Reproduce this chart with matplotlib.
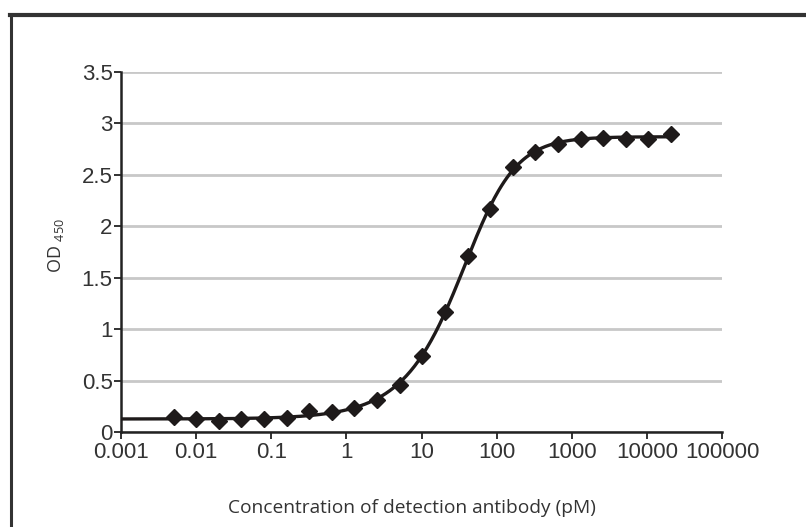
import numpy as np
import matplotlib
matplotlib.use("Agg")
import matplotlib.pyplot as plt
from matplotlib.lines import Line2D

# concentration of detection antibody (pM), two-fold dilutions
conc = [0.005, 0.01, 0.02, 0.04, 0.08, 0.16, 0.32, 0.64, 1.28, 2.56, 5.12,
        10.24, 20.48, 40.96, 81.92, 163.84, 327.68, 655.36, 1310.72,
        2621.44, 5242.88, 10485.76, 20971.52]
od450 = [0.149, 0.124, 0.11, 0.124, 0.13, 0.14, 0.207, 0.19, 0.23, 0.31,
         0.457, 0.74, 1.17, 1.71, 2.17, 2.58, 2.72, 2.80, 2.85, 2.86, 2.85,
         2.85, 2.90]

yticks = [0, 0.5, 1, 1.5, 2, 2.5, 3, 3.5]
ytick_labels = ["0", "0.5", "1", "1.5", "2", "2.5", "3", "3.5"]
xticks = [0.001, 0.01, 0.1, 1, 10, 100, 1000, 10000, 100000]
xtick_labels = ["0.001", "0.01", "0.1", "1", "10", "100", "1000", "10000", "100000"]


def five_pl_fit(x, y):
    # crude 5PL fit: grid over log(EC50), hill and asymmetry,
    # bottom/top from a linear regression on the shape term
    lx = np.log10(x)
    le = np.linspace(0.5, 2.5, 81)[:, None, None, None]
    h = np.linspace(0.8, 3.0, 45)[None, :, None, None]
    g = np.linspace(0.2, 1.6, 36)[None, None, :, None]
    s = (1.0 + 10 ** ((le - lx) * h)) ** (-g)
    sm = s.mean(axis=-1, keepdims=True)
    k = ((s - sm) * (y - y.mean())).sum(-1) / ((s - sm) ** 2).sum(-1)
    b0 = y.mean() - k * sm[..., 0]
    err = ((b0[..., None] + k[..., None] * s - y) ** 2).sum(-1)
    i, j, m = np.unravel_index(np.argmin(err), err.shape)
    return le[i, 0, 0, 0], h[0, j, 0, 0], g[0, 0, m, 0], b0[i, j, m], k[i, j, m]


x = np.array(conc)
y = np.array(od450)
le, h, g, bottom, span = five_pl_fit(x, y)
xfit = np.logspace(-3, np.log10(x.max()), 400)
yfit = bottom + span * (1.0 + 10 ** ((le - np.log10(xfit)) * h)) ** (-g)

plt.rcParams["mathtext.default"] = "regular"
plt.rcParams["font.family"] = ["Liberation Sans", "DejaVu Sans"]

fig = plt.figure(figsize=(8.06, 5.27), dpi=100)
ax = fig.add_axes([121 / 806, 1 - 432 / 527, (722 - 121) / 806, (432 - 72) / 527])

ax.plot(xfit, yfit, color="#1e1a1a", lw=2.4, zorder=3)
ax.plot(x, y, ls="none", marker="D", ms=8.5, color="#1e1a1a", zorder=4)

ax.set_xscale("log")
ax.set_xlim(0.001, 100000)
ax.set_ylim(0, 3.5)
ax.set_xticks(xticks)
ax.set_xticklabels(xtick_labels)
ax.xaxis.set_minor_locator(matplotlib.ticker.NullLocator())
ax.set_yticks(yticks)
ax.set_yticklabels(ytick_labels)

ax.tick_params(axis="both", direction="out", length=5, width=1.3, color="#222222",
               labelsize=16, labelcolor="#333333")
ax.tick_params(axis="x", pad=2)
ax.tick_params(axis="y", pad=1)

ax.grid(axis="y", color="#c8c8c8", lw=2)
ax.set_axisbelow(True)
for s in ["top", "right"]:
    ax.spines[s].set_visible(False)
for s in ["left", "bottom"]:
    ax.spines[s].set_color("#222222")
    ax.spines[s].set_linewidth(1.8)

fig.text(228 / 806, 1 - 508 / 527, "Concentration of detection antibody (pM)",
         family="Open Sans", fontsize=13.8, color="#333333", va="center", ha="left")
fig.text(56 / 806, 1 - 246 / 527, r"OD $_{450}$", family="Open Sans",
         fontsize=13, color="#333333", rotation=90, va="center", ha="center")

# screenshot frame
fig.add_artist(Line2D([11 / 806, 11 / 806], [0, 1 - 15 / 527], color="#333333", lw=2.2))
fig.add_artist(Line2D([10 / 806, 1], [1 - 15 / 527, 1 - 15 / 527], color="#333333", lw=3))

fig.savefig("out.png", dpi=100)
